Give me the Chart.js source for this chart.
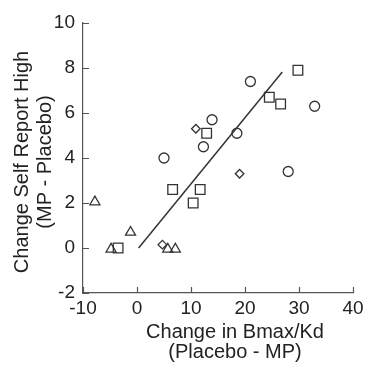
<!DOCTYPE html>
<html>
<head>
<meta charset="utf-8">
<script src="https://cdn.jsdelivr.net/npm/chart.js@4"></script>
<style>
body{margin:0;background:#fff;}
</style>
</head>
<body>
<canvas id="myChart" width="370" height="367"></canvas>
<script>
// data
const circleX=[5,21,13.9,12.3,18.5,28,32.9];
const circleY=[4,7.4,5.7,4.5,5.1,3.4,6.3];
const squareX=[29.8,24.5,26.6,12.9,6.6,11.7,10.4,-3.5];
const squareY=[7.9,6.7,6.4,5.1,2.6,2.6,2.0,0];
const diamondX=[10.9,19,4.7];
const diamondY=[5.3,3.3,0.15];
const triangleX=[-7.8,-1.2,-4.8,5.7,7.1];
const triangleY=[2.05,0.7,-0.05,-0.05,-0.05];
const fitX=[0.3,26.9];
const fitY=[0,7.82];
const xTicks=[-10,0,10,20,30,40];
const yTicks=[-2,0,2,4,6,8,10];

function pts(xs,ys){
    var out=[];
    for(var i=0;i<xs.length;i++){out.push({x:xs[i],y:ys[i]});}
    return out;
}

const ink='#333';
const fnt='"Liberation Sans", Arial, sans-serif';

function markers(name,xs,ys,style,r){
    return {
        label:name,
        data:pts(xs,ys),
        pointStyle:style,
        pointRadius:r,
        pointHoverRadius:r,
        pointBorderColor:ink,
        pointBackgroundColor:'rgba(0,0,0,0)',
        pointBorderWidth:1.3,
        showLine:false
    };
}

// inward tick marks + axis titles, placed where the figure has them
const extras={
    id:'extras',
    afterDraw:function(chart){
        var ctx=chart.ctx;
        var xs=chart.scales.x, ys=chart.scales.y;
        var a=chart.chartArea;
        ctx.save();
        ctx.strokeStyle='#555';
        ctx.lineWidth=1.2;
        ctx.beginPath();
        xTicks.forEach(function(v){
            var px=Math.round(xs.getPixelForValue(v))+0.5;
            ctx.moveTo(px,a.bottom);ctx.lineTo(px,a.bottom-6);
        });
        yTicks.forEach(function(v){
            var py=Math.round(ys.getPixelForValue(v))+0.5;
            ctx.moveTo(a.left,py);ctx.lineTo(a.left+6,py);
        });
        ctx.stroke();

        ctx.fillStyle='#222';
        ctx.font='20px '+fnt;
        ctx.textAlign='center';
        ctx.textBaseline='middle';
        ctx.fillText('Change in Bmax/Kd',235,332);
        ctx.fillText('(Placebo - MP)',235,352);
        ctx.translate(22,162);
        ctx.rotate(-Math.PI/2);
        ctx.fillText('Change Self Report High',0,0);
        ctx.fillText('(MP - Placebo)',0,23);
        ctx.restore();
    }
};

var chart=new Chart(document.getElementById('myChart').getContext('2d'),{
    type:'scatter',
    data:{
        datasets:[
            markers('circle',circleX,circleY,'circle',5),
            markers('square',squareX,squareY,'rect',6.8),
            markers('diamond',diamondX,diamondY,'rectRot',4.3),
            markers('triangle',triangleX,triangleY,'triangle',5.8),
            {
                label:'fit',
                data:pts(fitX,fitY),
                showLine:true,
                borderColor:ink,
                borderWidth:1.5,
                pointRadius:0,
                fill:false
            }
        ]
    },
    options:{
        responsive:false,
        animation:false,
        devicePixelRatio:1,
        layout:{padding:{top:23,right:17,left:0,bottom:0}},
        plugins:{legend:{display:false},tooltip:{enabled:false}},
        scales:{
            x:{
                type:'linear',
                min:-10,max:40,
                afterBuildTicks:function(s){s.ticks=xTicks.map(function(v){return {value:v};});},
                afterFit:function(s){s.height=74;},
                grid:{drawOnChartArea:false,drawTicks:false},
                border:{color:'#555',width:1.2},
                ticks:{color:'#222',font:{family:fnt,size:19},padding:4,maxRotation:0}
            },
            y:{
                type:'linear',
                min:-2,max:10,
                afterBuildTicks:function(s){s.ticks=yTicks.map(function(v){return {value:v};});},
                afterFit:function(s){s.width=83;},
                grid:{drawOnChartArea:false,drawTicks:false},
                border:{color:'#555',width:1.2},
                ticks:{color:'#222',font:{family:fnt,size:19},padding:8}
            }
        }
    },
    plugins:[extras]
});
</script>
</body>
</html>
